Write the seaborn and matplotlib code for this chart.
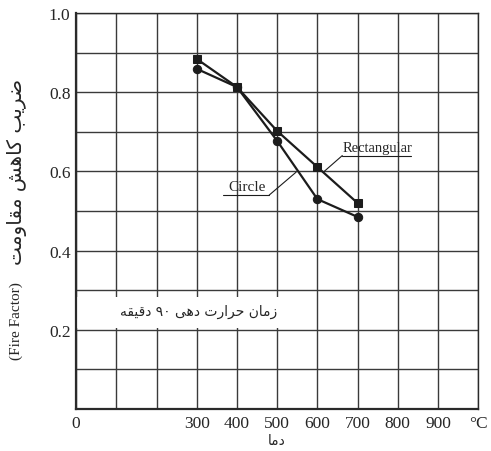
import re
import matplotlib
matplotlib.use("Agg")
import matplotlib.pyplot as plt
import seaborn as sns
import pandas as pd
from matplotlib.patches import Rectangle

# values
temps = [300, 400, 500, 600, 700]
rect_factor = [0.884, 0.813, 0.702, 0.611, 0.520]
circle_factor = [0.859, 0.813, 0.677, 0.530, 0.485]
shapes = ["Rectangular", "Circle"]

x_ticks = [0, 100, 200, 300, 400, 500, 600, 700, 800, 900, 1000]
x_labels = ["0", "", "", "300", "400", "500", "600", "700", "800", "900", "°C"]
y_ticks = [0.0, 0.1, 0.2, 0.3, 0.4, 0.5, 0.6, 0.7, 0.8, 0.9, 1.0]
y_labels = ["", "", "0.2", "", "0.4", "", "0.6", "", "0.8", "", "1.0"]

y_title_fa = "ضریب کاهش مقاومت"
y_title_en = "(Fire Factor)"
x_title = "دما"
note = "زمان حرارت دهی ۹۰ دقیقه"

# matplotlib has no arabic shaping, so pick presentation forms by hand
# (isolated, final, initial, medial)
FORMS = {
    "ا": ("\uFE8D", "\uFE8E", None, None),
    "ب": ("\uFE8F", "\uFE90", "\uFE91", "\uFE92"),
    "ت": ("\uFE95", "\uFE96", "\uFE97", "\uFE98"),
    "ح": ("\uFEA1", "\uFEA2", "\uFEA3", "\uFEA4"),
    "د": ("\uFEA9", "\uFEAA", None, None),
    "ر": ("\uFEAD", "\uFEAE", None, None),
    "ز": ("\uFEAF", "\uFEB0", None, None),
    "ش": ("\uFEB5", "\uFEB6", "\uFEB7", "\uFEB8"),
    "ض": ("\uFEBD", "\uFEBE", "\uFEBF", "\uFEC0"),
    "ق": ("\uFED5", "\uFED6", "\uFED7", "\uFED8"),
    "م": ("\uFEE1", "\uFEE2", "\uFEE3", "\uFEE4"),
    "ن": ("\uFEE5", "\uFEE6", "\uFEE7", "\uFEE8"),
    "ه": ("\uFEE9", "\uFEEA", "\uFEEB", "\uFEEC"),
    "و": ("\uFEED", "\uFEEE", None, None),
    "ی": ("\uFBFC", "\uFBFD", "\uFBFE", "\uFBFF"),
    "ک": ("\uFB8E", "\uFB8F", "\uFB90", "\uFB91"),
}


def rtl(s):
    out = []
    for i, c in enumerate(s):
        if c not in FORMS:
            out.append(c)
            continue
        prev = s[i - 1] if i > 0 else None
        nxt = s[i + 1] if i + 1 < len(s) else None
        jp = prev in FORMS and FORMS[prev][2] is not None
        jn = FORMS[c][2] is not None and nxt in FORMS
        if jp and jn:
            out.append(FORMS[c][3])
        elif jp:
            out.append(FORMS[c][1])
        elif jn:
            out.append(FORMS[c][2])
        else:
            out.append(FORMS[c][0])
    vis = "".join(out)[::-1]
    # numbers stay left to right
    return re.sub(r"[\u06F0-\u06F9]+", lambda m: m.group(0)[::-1], vis)


sns.set_style("white")
plt.rcParams["font.family"] = ["Liberation Serif", "DejaVu Sans"]

df = pd.DataFrame({
    "temp": temps * 2,
    "factor": rect_factor + circle_factor,
    "shape": [shapes[0]] * len(temps) + [shapes[1]] * len(temps),
})

fig = plt.figure(figsize=(4.91, 4.52), dpi=100)
ax = fig.add_axes([0.155, 0.093, 0.819, 0.876])

sns.lineplot(data=df, x="temp", y="factor", style="shape",
             markers={"Rectangular": "s", "Circle": "o"}, dashes=False,
             color="#1c1c1c", linewidth=1.6, markersize=6,
             markeredgecolor="#1c1c1c", legend=False, ax=ax, zorder=3)

ax.set_xlim(0, 1000)
ax.set_ylim(0, 1.0)
ax.set_xticks(x_ticks)
ax.set_xticklabels(x_labels, fontsize=12.5)
ax.set_yticks(y_ticks)
ax.set_yticklabels(y_labels, fontsize=12.5)
ax.tick_params(length=0, pad=4)
ax.grid(True, color="#3a3a3a", linewidth=1.0)
ax.set_axisbelow(True)
for side, sp in ax.spines.items():
    sp.set_color("#2a2a2a")
    sp.set_linewidth(1.0)
ax.spines["left"].set_linewidth(1.6)
ax.spines["bottom"].set_linewidth(1.6)

ax.set_xlabel("")
ax.set_ylabel("")

# axis titles placed on the figure
fig.text(277 / 491, 1 - 441 / 452, rtl(x_title), ha="center", va="center",
         fontsize=10, family="DejaVu Sans")
fig.text(16 / 491, 1 - 321 / 452, y_title_en, rotation=90, ha="center",
         va="center", fontsize=11)
fig.text(17 / 491, 1 - 172 / 452, rtl(y_title_fa), rotation=90, ha="center",
         va="center", fontsize=14.5, family="DejaVu Sans")

# note box
ax.add_patch(Rectangle((3, 0.205), 520, 0.078, facecolor="white",
                       edgecolor="none", zorder=1))
ax.text(305, 0.247, rtl(note), ha="center", va="center", fontsize=10,
        family="DejaVu Sans", zorder=2)

# curve labels with underline leaders
ax.text(750, 0.645, "Rectangular", ha="center", va="bottom", fontsize=10.5, zorder=4)
ax.plot([662, 832], [0.640, 0.640], color="#1c1c1c", lw=0.8, zorder=4)
ax.plot([662, 617], [0.640, 0.600], color="#1c1c1c", lw=0.8, zorder=4)

ax.text(425, 0.545, "Circle", ha="center", va="bottom", fontsize=11, zorder=4)
ax.plot([365, 480], [0.540, 0.540], color="#1c1c1c", lw=0.8, zorder=4)
ax.plot([480, 547], [0.540, 0.598], color="#1c1c1c", lw=0.8, zorder=4)

fig.savefig("out.png", dpi=100)
